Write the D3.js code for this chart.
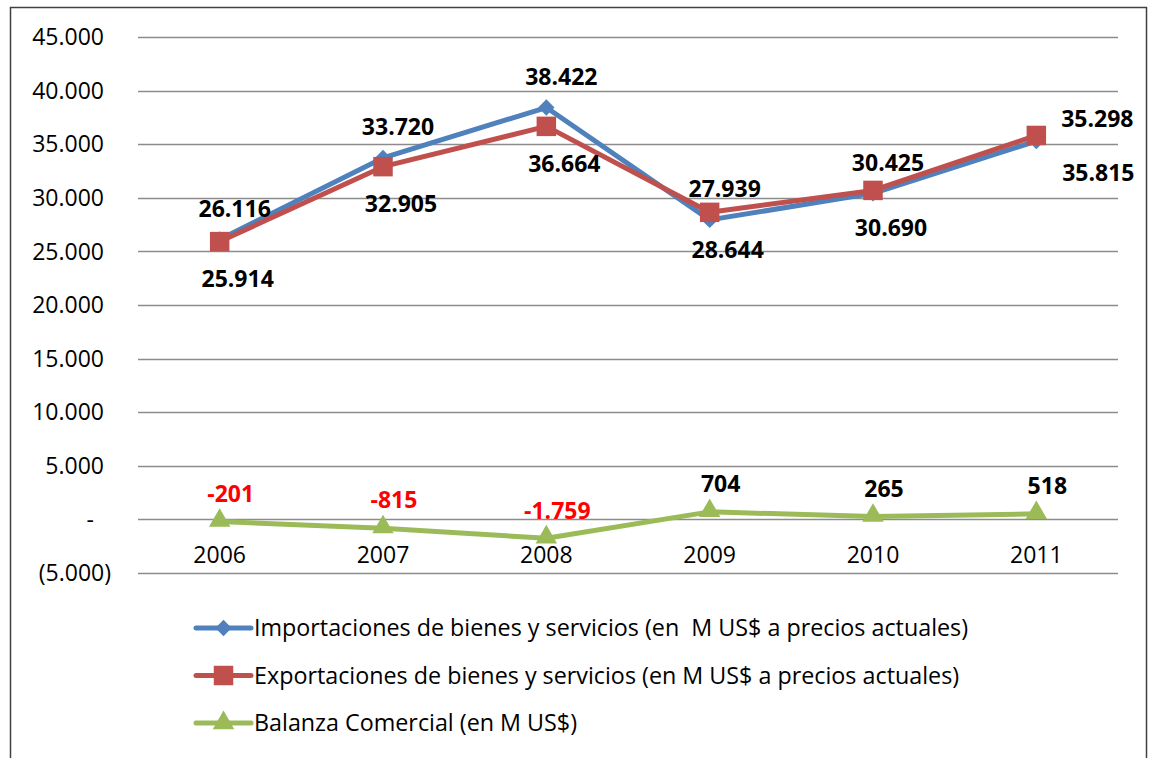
<!doctype html>
<html lang="es">
<head>
    <meta charset="utf-8">
    <title>Comercio exterior 2006-2011</title>
    <script src="https://d3js.org/d3.v7.min.js"></script>
    <style>
        html, body {
            margin: 0;
            padding: 0;
            background-color: #fff;
        }
        text {
            font-family: "Open Sans", sans-serif;
            fill: #000;
        }
        .grid line {
            stroke: #8c8c8c;
            stroke-width: 1.4;
        }
        .yTicks text, .xTicks text {
            font-size: 23px;
        }
        .label {
            font-size: 23px;
            font-weight: bold;
        }
        .label.neg {
            fill: #ff0000;
        }
        .legend text {
            font-size: 23.3px;
        }
    </style>
</head>
<body>
    <div id="chart"></div>

    <script>
        const years = ["2006", "2007", "2008", "2009", "2010", "2011"];
        const importaciones = [26116, 33720, 38422, 27939, 30425, 35298];
        const exportaciones = [25914, 32905, 36664, 28644, 30690, 35815];
        const balanza = [-201, -815, -1759, 704, 265, 518];
        const yTickValues = [-5000, 0, 5000, 10000, 15000, 20000, 25000, 30000, 35000, 40000, 45000];
        const seriesNames = [
            "Importaciones de bienes y servicios (en  M US$ a precios actuales)",
            "Exportaciones de bienes y servicios (en M US$ a precios actuales)",
            "Balanza Comercial (en M US$)"
        ];

        const W = 1151, H = 758;
        const margin = {left: 138, right: 33, top: 37};
        const plotBottom = 573;

        const svg = d3.select("#chart").append("svg")
            .attr("width", W)
            .attr("height", H);

        // outer frame (bottom edge falls outside the picture)
        svg.append("rect")
            .attr("x", 10.5)
            .attr("y", 7.5)
            .attr("width", 1136)
            .attr("height", 800)
            .attr("fill", "none")
            .attr("stroke", "#404040")
            .attr("stroke-width", 1.5);

        const x = d3.scalePoint()
            .domain(years)
            .range([margin.left, W - margin.right])
            .padding(0.5);

        const y = d3.scaleLinear()
            .domain([-5000, 45000])
            .range([plotBottom, margin.top]);

        const fmt = v => {
            if (v === 0) return "-";
            const s = d3.format(",")(Math.abs(v)).replace(/,/g, ".");
            return v < 0 ? "(" + s + ")" : s;
        };
        const fmtLabel = v => (v < 0 ? "-" : "") + d3.format(",")(Math.abs(v)).replace(/,/g, ".");

        // gridlines
        const grid = svg.append("g").attr("class", "grid");
        grid.selectAll("line")
            .data(yTickValues)
            .enter().append("line")
            .attr("x1", margin.left)
            .attr("x2", W - margin.right)
            .attr("y1", d => Math.round(y(d)) + 0.5)
            .attr("y2", d => Math.round(y(d)) + 0.5);

        // y tick labels
        const yTicks = svg.append("g").attr("class", "yTicks");
        yTicks.selectAll("text")
            .data(yTickValues)
            .enter().append("text")
            .text(fmt)
            .attr("x", d => d < 0 ? 111 : (d === 0 ? 94 : 104))
            .attr("y", d => y(d))
            .attr("dy", "0.36em")
            .attr("text-anchor", "end");

        // x category labels
        const xTicks = svg.append("g").attr("class", "xTicks");
        xTicks.selectAll("text")
            .data(years)
            .enter().append("text")
            .text(d => d)
            .attr("x", d => x(d))
            .attr("y", y(0) + 35)
            .attr("dy", "0.36em")
            .attr("text-anchor", "middle");

        const series = [
            {name: seriesNames[0], values: importaciones, color: "#4f81bd", marker: d3.symbolDiamond2, size: 170},
            {name: seriesNames[1], values: exportaciones, color: "#c0504d", marker: d3.symbolSquare, size: 380},
            {name: seriesNames[2], values: balanza, color: "#9bbb59", marker: d3.symbolTriangle, size: 200}
        ];

        const line = d3.line()
            .x((d, i) => x(years[i]))
            .y(d => y(d));

        series.forEach(s => {
            svg.append("path")
                .datum(s.values)
                .attr("fill", "none")
                .attr("stroke", s.color)
                .attr("stroke-width", 5)
                .attr("stroke-linejoin", "round")
                .attr("d", line);

            svg.append("g").selectAll("path")
                .data(s.values)
                .enter().append("path")
                .attr("d", d3.symbol().type(s.marker).size(s.size))
                .attr("fill", s.color)
                .attr("transform", (d, i) => {
                    const ty = s.marker === d3.symbolTriangle ? -1 : 0;
                    return `translate(${x(years[i])},${y(d) + ty})`;
                });
        });

        // data labels: imports above, exports below, last point to the right
        const last = years.length - 1;
        svg.append("g").selectAll("text")
            .data(importaciones)
            .enter().append("text")
            .attr("class", "label")
            .text(fmtLabel)
            .attr("text-anchor", "middle")
            .attr("x", (d, i) => x(years[i]) + (i === last ? 61 : 15))
            .attr("y", (d, i) => y(d) - (i === last ? 22 : 31))
            .attr("dy", "0.36em");

        svg.append("g").selectAll("text")
            .data(exportaciones)
            .enter().append("text")
            .attr("class", "label")
            .text(fmtLabel)
            .attr("text-anchor", "middle")
            .attr("x", (d, i) => x(years[i]) + (i === last ? 62 : 18))
            .attr("y", (d, i) => y(d) + 37)
            .attr("dy", "0.36em");

        svg.append("g").selectAll("text")
            .data(balanza)
            .enter().append("text")
            .attr("class", d => d < 0 ? "label neg" : "label")
            .text(fmtLabel)
            .attr("text-anchor", "middle")
            .attr("x", (d, i) => x(years[i]) + 11)
            .attr("y", d => y(d) - 28)
            .attr("dy", "0.36em");

        // legend
        const legend = svg.append("g").attr("class", "legend");
        const rows = legend.selectAll("g")
            .data(series)
            .enter().append("g")
            .attr("transform", (d, i) => `translate(196,${628 + i * 47.5})`);

        rows.append("line")
            .attr("x1", 0)
            .attr("x2", 55)
            .attr("stroke", d => d.color)
            .attr("stroke-width", 5)
            .attr("stroke-linecap", "round");

        rows.append("path")
            .attr("d", d => d3.symbol().type(d.marker).size(d.size)())
            .attr("fill", d => d.color)
            .attr("transform", "translate(27.5,0)");

        rows.append("text")
            .text(d => d.name)
            .attr("x", 58)
            .attr("dy", "0.36em")
            .style("white-space", "pre");
    </script>
</body>
</html>
